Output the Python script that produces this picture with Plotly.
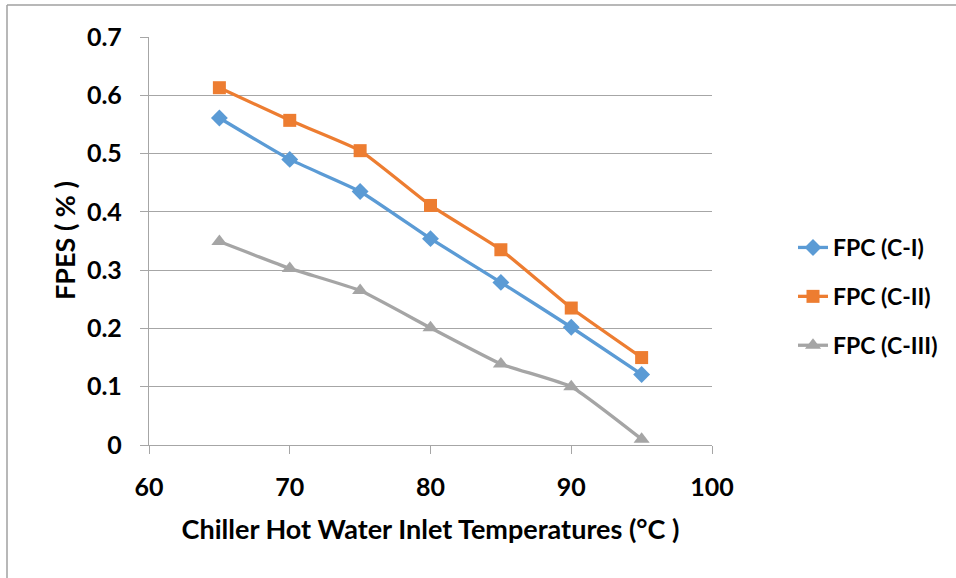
import plotly.graph_objects as go

# Hot water inlet temperature (°C)
temps = [65, 70, 75, 80, 85, 90, 95]

# FPES for the three chiller configurations
fpc_c1 = [0.561, 0.490, 0.435, 0.354, 0.279, 0.202, 0.121]
fpc_c2 = [0.613, 0.557, 0.505, 0.411, 0.335, 0.235, 0.150]
fpc_c3 = [0.349, 0.303, 0.265, 0.201, 0.139, 0.100, 0.010]

series_names = ["FPC (C-I)", "FPC (C-II)", "FPC (C-III)"]
x_ticks = [60, 70, 80, 90, 100]
y_ticks = [0, 0.1, 0.2, 0.3, 0.4, 0.5, 0.6, 0.7]

W, H = 956, 578
L, R, T, B = 149, 244, 37, 133
PW, PH = W - L - R, H - T - B

FONT = "Lato"
AXIS_GREY = "#A6A6A6"

styles = [
    dict(color="#5B9BD5", symbol="diamond", size=13),
    dict(color="#ED7D31", symbol="square", size=13),
    dict(color="#A5A5A5", symbol="triangle-up", size=14),
]

fig = go.Figure()
for i, (name, vals, st) in enumerate(zip(series_names, [fpc_c1, fpc_c2, fpc_c3], styles)):
    fig.add_trace(go.Scatter(
        x=temps, y=vals, name=name, mode="lines+markers",
        legendgroup=f"g{i}",
        line=dict(color=st["color"], width=3.3, shape="spline", smoothing=0.4),
        marker=dict(color=st["color"], symbol=st["symbol"], size=st["size"],
                    line=dict(width=0)),
    ))


def px_x(p):
    return (p - L) / PW


def px_y(p):
    return (H - B - p) / PH


# outer frame (top and left edges)
shapes = [
    dict(type="line", xref="paper", yref="paper",
         x0=px_x(7), x1=px_x(W + 5), y0=px_y(5), y1=px_y(5),
         line=dict(color="#A0A0A0", width=1.5)),
    dict(type="line", xref="paper", yref="paper",
         x0=px_x(7), x1=px_x(7), y0=px_y(5), y1=px_y(H + 5),
         line=dict(color="#A0A0A0", width=1.5)),
]

tick_font = dict(family=FONT, size=25, color="black", weight="bold")
title_font = dict(family=FONT, size=27, color="black", weight="bold")

# vertical axis title placed as a rotated annotation
annotations = [
    dict(text="FPES ( % )", xref="paper", yref="paper",
         x=px_x(64), y=px_y(241), xanchor="center", yanchor="middle",
         textangle=-90, showarrow=False, font=title_font),
]

fig.update_layout(
    width=W, height=H,
    margin=dict(l=L, r=R, t=T, b=B),
    paper_bgcolor="white", plot_bgcolor="white",
    font=dict(family=FONT, size=20, color="black"),
    showlegend=True,
    legend=dict(
        x=px_x(793), y=px_y(226), xanchor="left", yanchor="top",
        font=dict(family=FONT, size=23, color="black", weight="bold"),
        tracegroupgap=16, bgcolor="rgba(0,0,0,0)",
    ),
    shapes=shapes,
    annotations=annotations,
    xaxis=dict(
        range=[60, 100], tickvals=x_ticks, ticktext=[str(v) for v in x_ticks],
        showgrid=False, zeroline=False,
        showline=True, linecolor=AXIS_GREY, linewidth=1.3,
        ticks="outside", ticklen=8, tickcolor=AXIS_GREY, tickwidth=1.3,
        ticklabelstandoff=12,
        tickfont=tick_font,
        title=dict(text="Chiller Hot Water Inlet Temperatures (°C )",
                   font=title_font, standoff=19),
    ),
    yaxis=dict(
        range=[0, 0.7], tickvals=y_ticks,
        ticktext=["0" if v == 0 else f"{v:.1f}" for v in y_ticks],
        showgrid=True, gridcolor=AXIS_GREY, gridwidth=1.3, zeroline=False,
        showline=True, linecolor=AXIS_GREY, linewidth=1.3,
        ticks="outside", ticklen=8, tickcolor=AXIS_GREY, tickwidth=1.3,
        ticklabelstandoff=13,
        tickfont=tick_font,
    ),
)

fig.write_html("out.html")
